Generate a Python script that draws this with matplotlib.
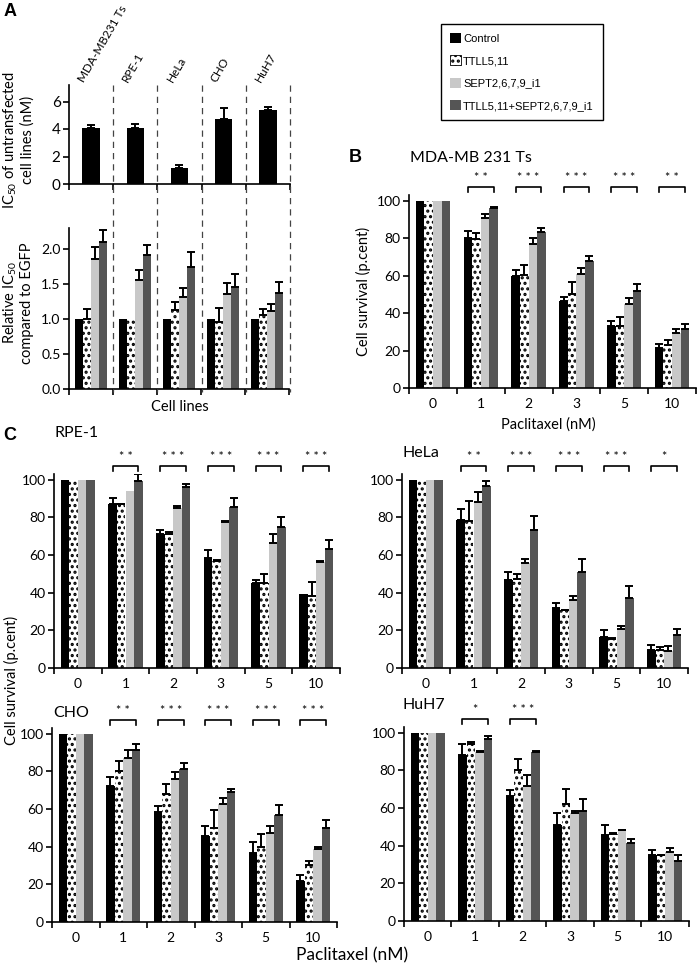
import numpy as np
import matplotlib
matplotlib.use('Agg')
import matplotlib.pyplot as plt
from matplotlib.patches import Patch
from matplotlib.lines import Line2D

plt.rcParams['font.family'] = ['Lato', 'DejaVu Sans']
plt.rcParams['mathtext.fontset'] = 'custom'
plt.rcParams['mathtext.rm'] = 'Lato'
plt.rcParams['hatch.color'] = 'black'
plt.rcParams['hatch.linewidth'] = 1.5

W, H = 698, 968

series = ['Control', 'TTLL5,11', 'SEPT2,6,7,9_i1', 'TTLL5,11+SEPT2,6,7,9_i1']
colors = ['#000000', '#ffffff', '#c8c8c8', '#555555']
hatches = [None, '...', None, None]

# panel A
cell_lines = ['MDA-MB231 Ts', 'RPE-1', 'HeLa', 'CHO', 'HuH7']
ic50 = [4.05, 4.1, 1.2, 4.7, 5.4]
ic50_err = [0.25, 0.25, 0.15, 0.8, 0.2]
rel_mean = [[1.0, 1.0, 1.0, 1.0, 1.0],
            [1.0, 0.99, 1.13, 0.96, 1.06],
            [1.86, 1.56, 1.32, 1.36, 1.11],
            [2.10, 1.92, 1.74, 1.46, 1.37]]
rel_err = [[0, 0, 0, 0, 0],
           [0.15, 0, 0.12, 0.2, 0.08],
           [0.17, 0.14, 0.12, 0.15, 0.11],
           [0.17, 0.14, 0.22, 0.18, 0.16]]

# panels B, C  (paclitaxel nM)
conc = ['0', '1', '2', '3', '5', '10']

mda_mean = [[100, 80.2, 59.8, 46.5, 33.3, 21.5],
            [100, 79.5, 60.5, 50, 33, 23],
            [100, 90.8, 76.8, 61, 45, 29.2],
            [100, 96.0, 83.2, 67.8, 52.0, 31.3]]
mda_err = [[0, 3.5, 3.4, 1.8, 2.3, 2.0],
           [0, 3.0, 5.0, 6.5, 5.0, 2.5],
           [0, 2.0, 3.5, 3.2, 3.2, 2.3],
           [0, 0.8, 2.0, 2.5, 3.5, 2.8]]
mda_sig = ['', '**', '***', '***', '***', '**']

rpe_mean = [[100, 86.9, 71.3, 58.4, 45.1, 39.2],
            [100, 86.9, 71, 57, 45, 38],
            [100, 93.8, 85.1, 77.5, 66.5, 56.5],
            [100, 99.4, 95.9, 85.5, 74.9, 63]]
rpe_err = [[0, 3.4, 1.8, 4.1, 1.4, 0],
           [0, 0.2, 1.2, 0.3, 4.7, 7.5],
           [0, 0, 0.9, 0.5, 4.5, 0.3],
           [0, 3.4, 1.8, 4.9, 5.3, 4.8]]
rpe_sig = ['', '**', '***', '***', '***', '***']

hela_mean = [[100, 78.4, 46.9, 31.9, 16.5, 9.4],
             [100, 78, 47, 30.6, 15.4, 9.5],
             [100, 88, 55.8, 35.9, 20.9, 9.2],
             [100, 96.5, 73.5, 51, 37.2, 17.3]]
hela_err = [[0, 6, 4.1, 2.6, 3.5, 3],
            [0, 10.5, 3, 0.4, 0.6, 1.5],
            [0, 5.3, 2.2, 2.5, 1.6, 2.7],
            [0, 2.6, 7.4, 6.9, 6.2, 3.6]]
hela_sig = ['', '**', '***', '***', '***', '*']

cho_mean = [[100, 72.2, 58.4, 45.7, 36.8, 21.8],
            [100, 80, 68, 50, 40, 30],
            [100, 87.3, 75.8, 62.5, 47.4, 38.6],
            [100, 91.2, 81.4, 69.2, 56.8, 50]]
cho_err = [[0, 5, 3.2, 5.3, 5.7, 3.2],
           [0, 5.5, 5.1, 9.5, 6.5, 2.4],
           [0, 3.9, 3.8, 3.2, 3.6, 1.2],
           [0, 3.1, 3.2, 1.2, 5.2, 4]]
cho_sig = ['', '**', '***', '***', '***', '***']

huh7_mean = [[100, 88, 66.6, 51.2, 45.8, 34.8],
             [100, 94, 80, 62, 46, 34.8],
             [100, 89.7, 71.6, 57.4, 48.1, 36.4],
             [100, 96.4, 89.9, 58.6, 41.4, 31.6]]
huh7_err = [[0, 6, 2.7, 6.2, 5.4, 3],
            [0, 1, 5.8, 8.2, 0.7, 0.2],
            [0, 0.5, 5.7, 0.9, 0.4, 2.3],
            [0, 1.8, 0.2, 6.2, 2.3, 3.2]]
huh7_sig = ['', '*', '***', '', '', '']


def fx(px):
    return px / W


def fy(py):
    return 1 - py / H


def add_ax(fig, x0, y0, x1, y1):
    """axes from pixel box (left, top, right, bottom)"""
    return fig.add_axes([fx(x0), fy(y1), (x1 - x0) / W, (y1 - y0) / H])


def style(ax, n):
    for s in ['top', 'right']:
        ax.spines[s].set_visible(False)
    for s in ['left', 'bottom']:
        ax.spines[s].set_linewidth(1.2)
    ax.set_xlim(-0.5, n - 0.5)
    ax.set_xticks(np.arange(n))
    ax.set_xticks(np.arange(n + 1) - 0.5, minor=True)
    ax.tick_params(axis='x', which='major', length=0, pad=7, labelsize=10)
    ax.tick_params(axis='x', which='minor', length=4, width=1.2, direction='out')
    ax.tick_params(axis='y', length=4, width=1.2, labelsize=10, pad=2)


def grouped_bars(ax, means, errs, width=0.18):
    n = len(means[0])
    x = np.arange(n)
    for k in range(4):
        pos = x + (k - 1.5) * width
        ax.bar(pos, means[k], width, color=colors[k], hatch=hatches[k],
               edgecolor='black' if hatches[k] else colors[k], linewidth=0, zorder=2)
        e = np.array(errs[k], dtype=float)
        m = e > 0
        if m.any():
            ax.errorbar(pos[m], np.array(means[k])[m], yerr=[np.zeros(m.sum()), e[m]],
                        fmt='none', ecolor='black', elinewidth=1.4, capsize=3,
                        capthick=1.4, zorder=3)


def survival(ax, means, errs, sig):
    grouped_bars(ax, means, errs)
    style(ax, len(conc))
    ax.set_ylim(0, 103)
    ax.set_yticks([0, 20, 40, 60, 80, 100])
    ax.set_xticklabels(conc)
    w = 0.18
    for i, s in enumerate(sig):
        if not s:
            continue
        x0, x1 = i - 1.5 * w, i + 1.5 * w
        ax.plot([x0, x0, x1, x1], [104.5, 107.5, 107.5, 104.5], color='black',
                lw=1.2, clip_on=False)
        ax.text(i, 112, ' '.join(s), ha='center', va='center', fontsize=9,
                clip_on=False)


fig = plt.figure(figsize=(W / 100, H / 100), dpi=100)

# ---- A top
axa = add_ax(fig, 69, 85, 290, 184)
axa.bar(np.arange(5), ic50, 0.39, color='black', zorder=2)
axa.errorbar(np.arange(5), ic50, yerr=[np.zeros(5), ic50_err], fmt='none',
             ecolor='black', elinewidth=1.4, capsize=3, capthick=1.4, zorder=3)
style(axa, 5)
axa.set_ylim(0, 7.2)
axa.set_yticks([0, 2, 4, 6])
axa.set_xticklabels([])
axa.tick_params(axis='y', labelsize=11)
for i, name in enumerate(cell_lines):
    axa.text(i - 0.12, 7.25, name, rotation=60, rotation_mode='anchor',
             ha='left', va='bottom', fontsize=8.5, clip_on=False)
fig.text(fx(18), fy(140), 'IC$_{50}$ of untransfected\ncell lines (nM)', rotation=90,
         ha='center', va='center', fontsize=10.5, linespacing=1.1)

# ---- A bottom
axb = add_ax(fig, 69, 228, 289, 389)
grouped_bars(axb, rel_mean, rel_err)
style(axb, 5)
axb.set_ylim(0, 2.3)
axb.set_yticks([0, 0.5, 1.0, 1.5, 2.0])
axb.set_yticklabels(['0.0', '0.5', '1.0', '1.5', '2.0'])
axb.set_xticklabels([])
axb.tick_params(axis='y', labelsize=10)
fig.text(fx(18), fy(303), 'Relative IC$_{50}$\ncompared to EGFP', rotation=90,
         ha='center', va='center', fontsize=10.5, linespacing=1.1)
fig.text(fx(180), fy(407), 'Cell lines', ha='center', va='center', fontsize=10.5)

# dashed separators between cell lines
for b in [0.5, 1.5, 2.5, 3.5, 4.5]:
    xp = 69 + (b + 0.5) / 5 * (290 - 69)
    fig.add_artist(Line2D([fx(xp), fx(xp)], [fy(85), fy(392)], transform=fig.transFigure,
                          color='#444444', lw=0.9, ls=(0, (5, 4))))

fig.text(fx(4), fy(12), 'A', fontweight='bold', fontsize=13,
         family='Liberation Sans', va='center')

# legend
handles = [Patch(facecolor=colors[k], edgecolor='black' if k == 1 else colors[k],
                 hatch=hatches[k], linewidth=0.6 if k == 1 else 0) for k in range(4)]
leg = fig.legend(handles, series, loc='upper left', bbox_to_anchor=(fx(441), fy(24)),
                 borderaxespad=0, fancybox=False, edgecolor='black', framealpha=1,
                 handlelength=1.0, handleheight=1.0, handletextpad=0.2,
                 labelspacing=1.05, borderpad=0.8,
                 prop={'family': 'Liberation Sans', 'size': 8})
leg.get_frame().set_linewidth(1.0)

# ---- B
ax_mda = add_ax(fig, 409, 195, 696, 388)
survival(ax_mda, mda_mean, mda_err, mda_sig)
ax_mda.set_ylabel('Cell survival (p.cent)', fontsize=10.5, labelpad=4)
fig.text(fx(548), fy(425), 'Paclitaxel (nM)', ha='center', va='center', fontsize=10.5)
fig.text(fx(410), fy(158), 'MDA-MB 231 Ts', ha='left', va='center', fontsize=11.5)
fig.text(fx(349), fy(158), 'B', fontweight='bold', fontsize=13,
         family='Liberation Sans', va='center')

# ---- C
ax_rpe = add_ax(fig, 54, 474, 340, 668)
survival(ax_rpe, rpe_mean, rpe_err, rpe_sig)
fig.text(fx(54), fy(433), 'RPE-1', ha='left', va='center', fontsize=11.5)

ax_hela = add_ax(fig, 402, 474, 688, 668)
survival(ax_hela, hela_mean, hela_err, hela_sig)
fig.text(fx(402), fy(453), 'HeLa', ha='left', va='center', fontsize=11.5)

ax_cho = add_ax(fig, 52, 728, 337, 922)
survival(ax_cho, cho_mean, cho_err, cho_sig)
fig.text(fx(53), fy(713), 'CHO', ha='left', va='center', fontsize=11.5)

ax_huh = add_ax(fig, 404, 727, 689, 921)
survival(ax_huh, huh7_mean, huh7_err, huh7_sig)
fig.text(fx(402), fy(705), 'HuH7', ha='left', va='center', fontsize=11.5)

fig.text(fx(3), fy(435), 'C', fontweight='bold', fontsize=13,
         family='Liberation Sans', va='center')
fig.text(fx(11), fy(680), 'Cell survival (p.cent)', rotation=90, ha='center',
         va='center', fontsize=10.5)
fig.text(fx(352), fy(955), 'Paclitaxel (nM)', ha='center', va='center', fontsize=12.5)

fig.savefig('out.png', dpi=100)
